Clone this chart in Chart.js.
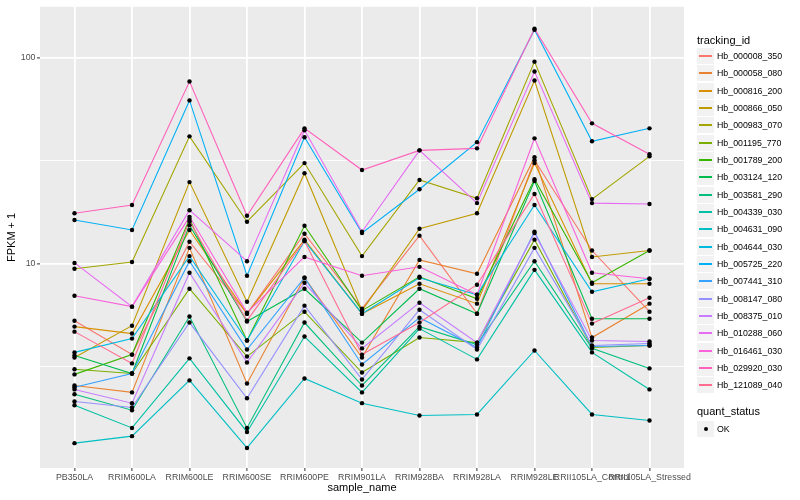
<!DOCTYPE html>
<html>
<head>
<meta charset="utf-8">
<script src="https://cdn.jsdelivr.net/npm/chart.js@4.4.1/dist/chart.umd.min.js"></script>
<style>
body { margin: 0; background: #fff; }
#wrap { position: relative; width: 800px; height: 500px; font-family: "Liberation Sans", Arial, sans-serif; }
#c { position: absolute; left: 0; top: 0; }
.lg { position: absolute; white-space: nowrap; color: #000; }
</style>
</head>
<body>
<div id="wrap"><canvas id="c" width="800" height="500"></canvas></div>
<script>
const samples = ['PB350LA', 'RRIM600LA', 'RRIM600LE', 'RRIM600SE', 'RRIM600PE', 'RRIM901LA',
    'RRIM928BA', 'RRIM928LA', 'RRIM928LE', 'RRII105LA_Control', 'RRII105LA_Stressed'];

const trackingIds = ['Hb_000008_350', 'Hb_000058_080', 'Hb_000816_200', 'Hb_000866_050', 'Hb_000983_070',
    'Hb_001195_770', 'Hb_001789_200', 'Hb_003124_120', 'Hb_003581_290', 'Hb_004339_030',
    'Hb_004631_090', 'Hb_004644_030', 'Hb_005725_220', 'Hb_007441_310', 'Hb_008147_080',
    'Hb_008375_010', 'Hb_010288_060', 'Hb_016461_030', 'Hb_029920_030', 'Hb_121089_040'];

const colours = ['#F8766D', '#EA8331', '#D89000', '#C09B00', '#A3A500', '#7CAE00', '#39B600', '#00BB4E',
    '#00BF7D', '#00C1A3', '#00BFC4', '#00BAE0', '#00B0F6', '#35A2FF', '#9590FF', '#C77CFF',
    '#E76BF3', '#FA62DB', '#FF62BC', '#FF6C91'];

// FPKM + 1, one value per sample
const hb_000008_350 = [5.30, 3.63, 12.8, 5.73, 14.0, 6.06, 13.7, 5.73, 31.8, 11.6, 5.86];
const hb_000058_080 = [2.57, 2.38, 11.95, 2.63, 8.56, 3.51, 10.45, 8.95, 32.9, 4.39, 6.41];
const hb_000816_200 = [4.96, 4.59, 14.6, 5.73, 13.1, 5.73, 8.0, 6.41, 30.8, 8.0, 8.0];
const hb_000866_050 = [3.51, 5.01, 24.9, 6.55, 27.5, 5.93, 14.8, 17.6, 77.4, 10.8, 11.6];
const hb_000983_070 = [9.46, 10.2, 41.5, 16.0, 30.8, 10.9, 25.5, 20.8, 95.6, 20.6, 33.2];
const hb_001195_770 = [3.08, 2.94, 7.57, 3.55, 5.86, 2.97, 4.39, 4.15, 13.1, 3.93, 4.02];
const hb_001789_200 = [2.91, 3.63, 16.5, 4.25, 15.3, 5.93, 8.65, 6.77, 25.7, 8.09, 11.6];
const hb_003124_120 = [3.59, 2.94, 15.4, 5.25, 7.57, 4.15, 7.57, 5.73, 25.2, 5.42, 5.42];
const hb_003581_290 = [2.33, 1.95, 5.55, 1.60, 5.19, 2.57, 4.96, 4.06, 10.3, 3.89, 3.11];
const hb_004339_030 = [2.06, 1.60, 3.48, 1.53, 4.44, 2.38, 4.85, 3.44, 9.35, 3.72, 2.46];
const hb_004631_090 = [1.35, 1.46, 2.72, 1.28, 2.78, 2.11, 1.84, 1.86, 3.80, 1.86, 1.74];
const hb_004644_030 = [3.72, 4.34, 10.9, 4.25, 12.9, 5.73, 8.56, 7.08, 19.3, 7.32, 8.46];
const hb_005725_220 = [16.3, 14.6, 62.0, 8.75, 41.1, 14.1, 23.0, 38.9, 136.6, 39.3, 45.4];
const hb_007441_310 = [2.52, 2.94, 10.3, 3.84, 8.56, 3.25, 5.48, 3.93, 14.3, 3.97, 4.02];
const hb_008147_080 = [2.15, 2.01, 5.19, 2.23, 6.27, 2.75, 5.99, 3.84, 11.95, 4.02, 4.11];
const hb_008375_010 = [2.46, 2.11, 9.05, 3.32, 8.09, 3.89, 6.48, 4.15, 14.1, 4.25, 4.20];
const hb_010288_060 = [10.1, 6.20, 18.2, 10.3, 44.4, 14.3, 35.5, 19.7, 85.6, 19.7, 19.5];
const hb_016461_030 = [7.0, 6.20, 16.9, 5.80, 10.8, 8.75, 9.67, 7.08, 40.6, 9.05, 8.46];
const hb_029920_030 = [17.6, 19.3, 76.6, 17.1, 45.4, 28.5, 35.5, 36.3, 138.1, 48.0, 34.0];
const hb_121089_040 = [4.69, 3.29, 16.1, 5.30, 12.9, 3.63, 5.19, 7.92, 21.8, 5.13, 6.85];

const seriesValues = [hb_000008_350, hb_000058_080, hb_000816_200, hb_000866_050, hb_000983_070,
    hb_001195_770, hb_001789_200, hb_003124_120, hb_003581_290, hb_004339_030,
    hb_004631_090, hb_004644_030, hb_005725_220, hb_007441_310, hb_008147_080,
    hb_008375_010, hb_010288_060, hb_016461_030, hb_029920_030, hb_121089_040];

const yGrid = [3.1623, 10, 31.623, 100];
const yTickLabels = ['', '10', '', '100'];

const FONT = '"Liberation Sans", Arial, sans-serif';
Chart.defaults.font.family = FONT;

const panelBg = {
    id: 'panelBg',
    beforeDraw(chart) {
        const {ctx, chartArea: a} = chart;
        ctx.save();
        ctx.fillStyle = '#EBEBEB';
        ctx.fillRect(a.left, a.top, a.right - a.left, a.bottom - a.top);
        ctx.restore();
    }
};

const datasets = seriesValues.map((vals, i) => ({
    type: 'line',
    label: trackingIds[i],
    data: vals.map((v, j) => ({x: j, y: v})),
    borderColor: colours[i],
    borderWidth: 1.1,
    pointRadius: 0,
    fill: false,
    tension: 0,
    order: -i
}));

// points go on top of every line, as in the reference
datasets.push({
    type: 'line',
    label: 'OK',
    showLine: false,
    data: seriesValues.flatMap(vals => vals.map((v, j) => ({x: j, y: v}))),
    pointRadius: 2.2,
    pointBackgroundColor: '#000',
    pointBorderWidth: 0,
    order: -100
});

new Chart(document.getElementById('c'), {
    type: 'line',
    data: {datasets},
    plugins: [panelBg],
    options: {
        responsive: false,
        animation: false,
        layout: {padding: {left: 0, right: 116, top: 5, bottom: 0}},
        plugins: {legend: {display: false}, tooltip: {enabled: false}},
        scales: {
            x: {
                type: 'linear', min: -0.6, max: 10.6,
                afterBuildTicks: s => { s.ticks = samples.map((_, i) => ({value: i})); },
                afterFit: s => { s.height = 32; },
                ticks: {
                    autoSkip: false, maxRotation: 0, minRotation: 0, padding: 1.5,
                    color: '#4D4D4D', font: {size: 8.8},
                    callback: v => samples[v]
                },
                grid: {color: '#FFFFFF', lineWidth: 1.8, tickLength: 3, tickColor: '#333333', tickWidth: 1},
                border: {display: false},
                title: {display: true, text: 'sample_name', color: '#000', font: {size: 11}, padding: {top: 0, bottom: 5.4}}
            },
            y: {
                type: 'logarithmic', min: 1.023, max: 176.4,
                afterBuildTicks: s => { s.ticks = yGrid.map(v => ({value: v})); },
                afterFit: s => { s.width = 40; },
                ticks: {
                    padding: 1.5, color: '#4D4D4D', font: {size: 8.8},
                    callback: (v, i) => yTickLabels[i]
                },
                grid: {
                    color: '#FFFFFF',
                    lineWidth: c => yTickLabels[c.index] ? 1.8 : 0.9,
                    tickLength: 3,
                    tickColor: c => yTickLabels[c.index] ? '#333333' : 'rgba(0,0,0,0)',
                    tickWidth: 1
                },
                border: {display: false},
                title: {display: true, text: 'FPKM + 1', color: '#000', font: {size: 11}, padding: {top: 5.4, bottom: 0}}
            }
        }
    }
});

// ggplot-style legend on the right
const wrap = document.getElementById('wrap');
function addDiv(css, text) {
    const d = document.createElement('div');
    d.className = 'lg';
    d.style.cssText = css;
    if (text !== undefined) d.textContent = text;
    wrap.appendChild(d);
    return d;
}
const rowH = 17.33, keyLeft = 697, firstTop = 48;
addDiv(`left:${keyLeft}px;top:33px;font-size:11px;line-height:15px;`, 'tracking_id');
trackingIds.forEach((id, i) => {
    const top = Math.round(firstTop + i * rowH);
    addDiv(`left:${keyLeft}px;top:${top}px;width:17px;height:16px;background:#F2F2F2;`);
    addDiv(`left:${keyLeft + 2}px;top:${top + 7}px;width:13px;height:2px;background:${colours[i]};`);
    addDiv(`left:717px;top:${top}px;height:17px;line-height:17px;font-size:8.8px;`, id);
});
addDiv(`left:${keyLeft}px;top:404px;font-size:11px;line-height:15px;`, 'quant_status');
addDiv(`left:${keyLeft}px;top:421px;width:17px;height:16px;background:#F2F2F2;`);
addDiv(`left:${keyLeft + 6.5}px;top:427px;width:4px;height:4px;border-radius:2px;background:#000;`);
addDiv(`left:717px;top:421px;height:17px;line-height:17px;font-size:8.8px;`, 'OK');
</script>
</body>
</html>
